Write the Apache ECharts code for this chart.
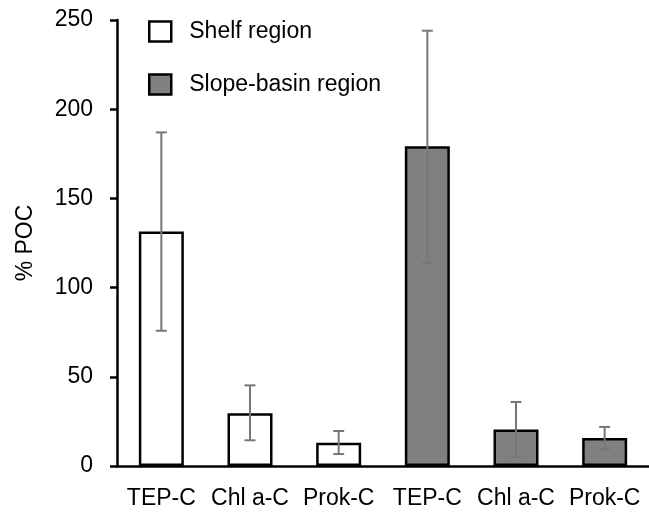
<!DOCTYPE html>
<html>
<head>
<meta charset="utf-8">
<script src="https://cdn.jsdelivr.net/npm/echarts@6/dist/echarts.min.js"></script>
<style>html,body{margin:0;padding:0;background:#fff}#c{width:649px;height:518px}</style>
</head>
<body>
<div id="c"></div>
<script>
const categories = ['TEP-C', 'Chl a-C', 'Prok-C', 'TEP-C', 'Chl a-C', 'Prok-C'];
const shelfValues = [131.5, 29.5, 13, null, null, null];
const slopeValues = [null, null, null, 179.3, 20.5, 15.7];
const errLow = [75.8, 14.4, 6.7, 113.8, 5.0, 9.4];
const errHigh = [187, 45.2, 19.6, 244, 35.9, 21.9];
const yTicks = [0, 50, 100, 150, 200, 250];

const FONT = 'Arial, "Liberation Sans", sans-serif';
const FS = 23;
const errData = categories.map((c, i) => [i, errLow[i], errHigh[i]]);

const chart = echarts.init(document.getElementById('c'), null, {renderer: 'canvas'});
chart.setOption({
  animation: false,
  backgroundColor: '#fff',
  textStyle: {fontFamily: FONT},
  grid: {left: 117, top: 20, bottom: 52, width: 534, containLabel: false},
  legend: {
    orient: 'vertical', left: 143, top: 15,
    itemWidth: 22, itemHeight: 20, itemGap: 30,
    icon: 'rect',
    data: ['Shelf region', 'Slope-basin region'],
    textStyle: {fontSize: FS, color: '#000', fontFamily: FONT, padding: [0, 0, 0, 13]},
    itemStyle: {borderColor: '#000', borderWidth: 2.5}
  },
  xAxis: {
    type: 'category', data: categories,
    axisLine: {lineStyle: {color: '#000', width: 2.5}},
    axisTick: {show: false},
    axisLabel: {fontSize: FS, color: '#000', margin: 21, interval: 0, fontFamily: FONT},
    splitLine: {show: false}
  },
  yAxis: {
    type: 'value', min: yTicks[0], max: yTicks[yTicks.length - 1], interval: 50,
    name: '% POC', nameLocation: 'middle', nameGap: 80,
    nameTextStyle: {fontSize: FS, color: '#000', fontFamily: FONT},
    axisLine: {show: true, lineStyle: {color: '#000', width: 2.5}},
    axisTick: {show: true, inside: false, length: 7, lineStyle: {color: '#000', width: 2.5}},
    axisLabel: {fontSize: FS, color: '#000', margin: 24, fontFamily: FONT},
    splitLine: {show: false}
  },
  series: [
    {
      name: 'Shelf region', type: 'bar', data: shelfValues, barWidth: 45, barGap: '-100%',
      itemStyle: {color: '#ffffff', borderColor: '#000', borderWidth: 2.5}
    },
    {
      name: 'Slope-basin region', type: 'bar', data: slopeValues, barWidth: 45,
      itemStyle: {color: '#808080', borderColor: '#000', borderWidth: 2.5}
    },
    {
      type: 'custom', z: 10, data: errData,
      encode: {x: 0, y: [1, 2]},
      renderItem: function (params, api) {
        const x = api.value(0);
        const lo = api.coord([x, api.value(1)]);
        const hi = api.coord([x, api.value(2)]);
        const hw = 5.5;
        const style = {stroke: '#777777', lineWidth: 2};
        return {
          type: 'group',
          children: [
            {type: 'line', shape: {x1: lo[0], y1: lo[1], x2: hi[0], y2: hi[1]}, style},
            {type: 'line', shape: {x1: hi[0] - hw, y1: hi[1], x2: hi[0] + hw, y2: hi[1]}, style},
            {type: 'line', shape: {x1: lo[0] - hw, y1: lo[1], x2: lo[0] + hw, y2: lo[1]}, style}
          ]
        };
      }
    }
  ]
});
</script>
</body>
</html>
